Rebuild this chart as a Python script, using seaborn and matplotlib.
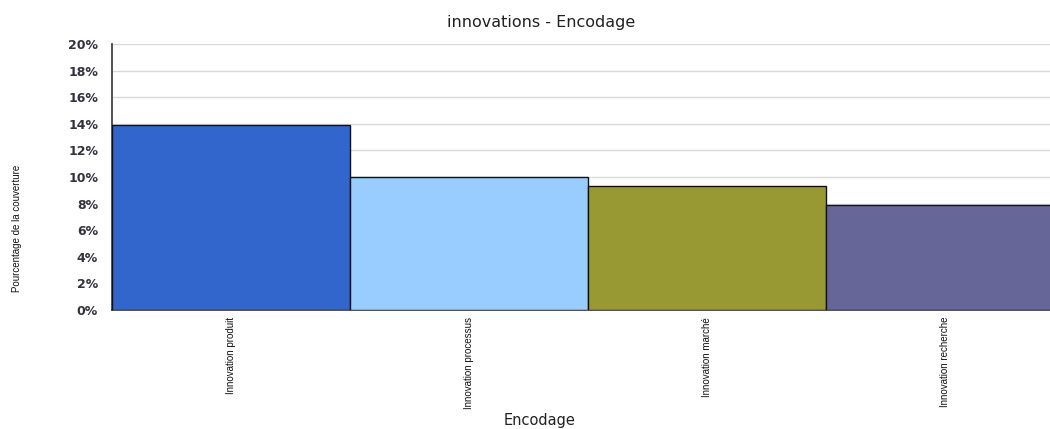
import pandas as pd
import matplotlib
matplotlib.use("Agg")
import matplotlib.pyplot as plt
import seaborn as sns
from matplotlib.ticker import FuncFormatter

categories = ["Innovation produit", "Innovation processus", "Innovation marché", "Innovation recherche"]
values = [13.9, 10.0, 9.3, 7.9]
colors = ["#3366CC", "#99CCFF", "#999933", "#666699"]

df = pd.DataFrame({"Encodage": categories, "pct": values})

sns.set_style("white")
plt.rcParams["font.family"] = ["DejaVu Sans"]

fig = plt.figure(figsize=(10.5, 4.29), dpi=100)
ax = fig.add_axes([112 / 1050, 119 / 429, 952 / 1050, 266 / 429])

sns.barplot(data=df, x="Encodage", y="pct", hue="Encodage", palette=colors,
            saturation=1, width=1.0, edgecolor="#111111", linewidth=1.0,
            legend=False, ax=ax, zorder=3)

ax.set_xlim(-0.5, 3.5)
ax.set_ylim(0, 20)
ax.set_yticks(range(0, 21, 2))
ax.yaxis.set_major_formatter(FuncFormatter(lambda v, p: f"{int(v)}%"))
ax.grid(axis="y", color="#d9d9d9", linewidth=1, zorder=0)
ax.set_axisbelow(True)

for s in ["top", "right"]:
    ax.spines[s].set_visible(False)
ax.spines["left"].set_color("#333333")
ax.spines["bottom"].set_color("#333333")
ax.spines["left"].set_linewidth(1.2)
ax.spines["bottom"].set_linewidth(1.2)

ax.tick_params(axis="y", length=0, pad=10, labelsize=9, labelcolor="#333340")
for t in ax.get_yticklabels():
    t.set_fontweight("bold")
ax.tick_params(axis="x", length=0, pad=5)
ax.set_xticks(range(len(categories)))
ax.set_xticklabels(categories, rotation=90, va="top", ha="center",
                   fontsize=7, family=["Liberation Sans", "DejaVu Sans"],
                   color="#111111")

ax.set_xlabel("")
ax.set_ylabel("")
fig.text(17 / 1050, 1 - 228 / 429, "Pourcentage de la couverture", rotation=90,
         ha="center", va="center", fontsize=7,
         family=["Liberation Sans", "DejaVu Sans"], color="#111111")
fig.text(540 / 1050, 1 - 421 / 429, "Encodage", ha="center", va="center",
         fontsize=10.5, color="#222222")
fig.text(541 / 1050, 1 - 22 / 429, "innovations - Encodage", ha="center", va="center",
         fontsize=11.5, color="#222222")

fig.savefig("out.png", dpi=100)
